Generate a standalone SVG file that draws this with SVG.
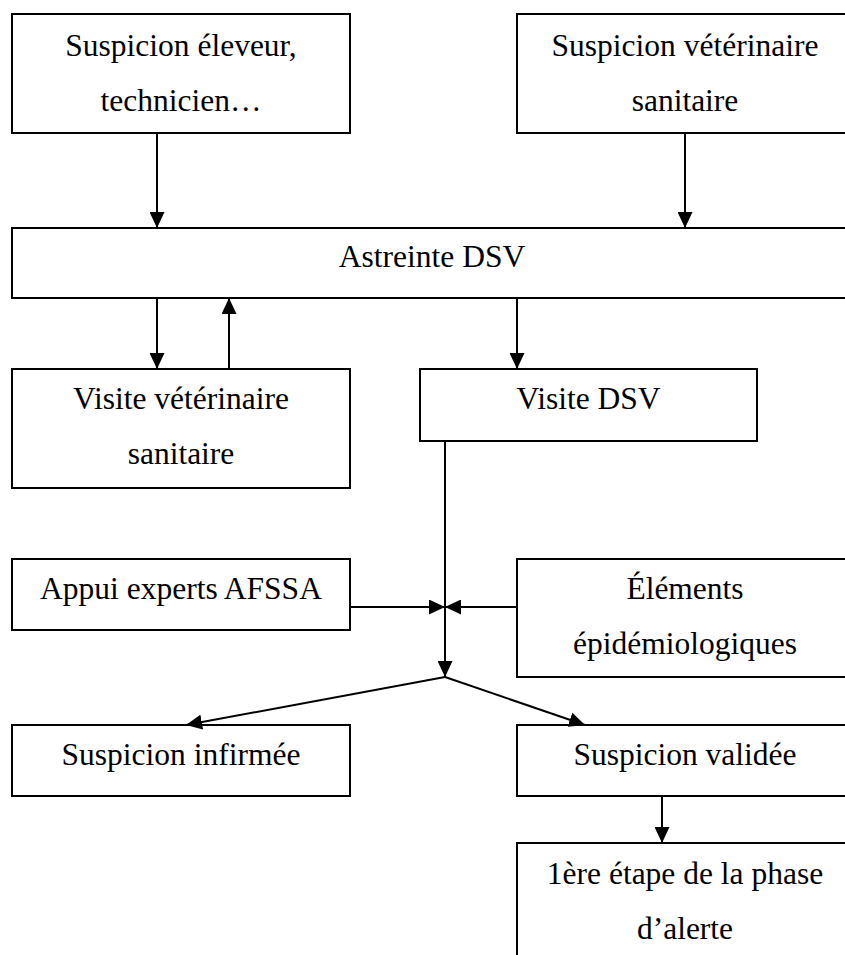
<svg xmlns="http://www.w3.org/2000/svg" width="845" height="955" viewBox="0 0 845 955">
<defs>
<style>
.box{fill:#fff;stroke:#000;stroke-width:2}
.lbl{font-family:"Liberation Serif","Times New Roman",serif;font-size:31.5px;fill:#000;text-anchor:middle}
.con{fill:none;stroke:#000;stroke-width:2}
.arr{marker-end:url(#ah)}
</style>
<marker id="ah" viewBox="0 0 16 15" refX="16" refY="7.5" markerWidth="16" markerHeight="15" markerUnits="userSpaceOnUse" orient="auto">
<path d="M0,0 L16,7.5 L0,15 Z" fill="#000"/>
</marker>
</defs>
<rect width="845" height="955" fill="#fff"/>
<g id="n1"><rect class="box" x="12" y="14" width="338" height="119"/><text class="lbl" x="181" y="56">Suspicion éleveur,</text><text class="lbl" x="181" y="111">technicien…</text></g>
<g id="n2"><rect class="box" x="517" y="14" width="336" height="119"/><text class="lbl" x="685" y="56">Suspicion vétérinaire</text><text class="lbl" x="685" y="111">sanitaire</text></g>
<g id="n3"><rect class="box" x="12" y="228" width="838" height="70"/><text class="lbl" x="432" y="267">Astreinte DSV</text></g>
<g id="n4"><rect class="box" x="12" y="369" width="338" height="119"/><text class="lbl" x="181" y="409">Visite vétérinaire</text><text class="lbl" x="181" y="464">sanitaire</text></g>
<g id="n5"><rect class="box" x="420" y="369" width="337" height="72"/><text class="lbl" x="588.5" y="409">Visite DSV</text></g>
<g id="n6"><rect class="box" x="12" y="559" width="338" height="71"/><text class="lbl" x="181" y="599">Appui experts AFSSA</text></g>
<g id="n7"><rect class="box" x="517" y="559" width="336" height="118"/><text class="lbl" x="685" y="599">Éléments</text><text class="lbl" x="685" y="654">épidémiologiques</text></g>
<g id="n8"><rect class="box" x="12" y="725" width="338" height="71"/><text class="lbl" x="181" y="765">Suspicion infirmée</text></g>
<g id="n9"><rect class="box" x="517" y="725" width="336" height="71"/><text class="lbl" x="685" y="765">Suspicion validée</text></g>
<g id="n10"><rect class="box" x="517" y="843" width="336" height="130"/><text class="lbl" x="685" y="884">1ère étape de la phase</text><text class="lbl" x="685" y="939">d’alerte</text></g>
<g id="connectors">
<line class="con arr" x1="157" y1="133" x2="157" y2="228"/>
<line class="con arr" x1="685" y1="133" x2="685" y2="228"/>
<line class="con arr" x1="157" y1="298" x2="157" y2="369"/>
<line class="con arr" x1="229" y1="369" x2="229" y2="298"/>
<line class="con arr" x1="517" y1="298" x2="517" y2="369"/>
<line class="con arr" x1="445" y1="441" x2="445" y2="677"/>
<line class="con arr" x1="350" y1="607" x2="445" y2="607"/>
<line class="con arr" x1="517" y1="607" x2="445" y2="607"/>
<line class="con arr" x1="445" y1="677" x2="186" y2="725"/>
<line class="con arr" x1="445" y1="677" x2="585" y2="725"/>
<line class="con arr" x1="662" y1="796" x2="662" y2="843"/>
</g>
</svg>
